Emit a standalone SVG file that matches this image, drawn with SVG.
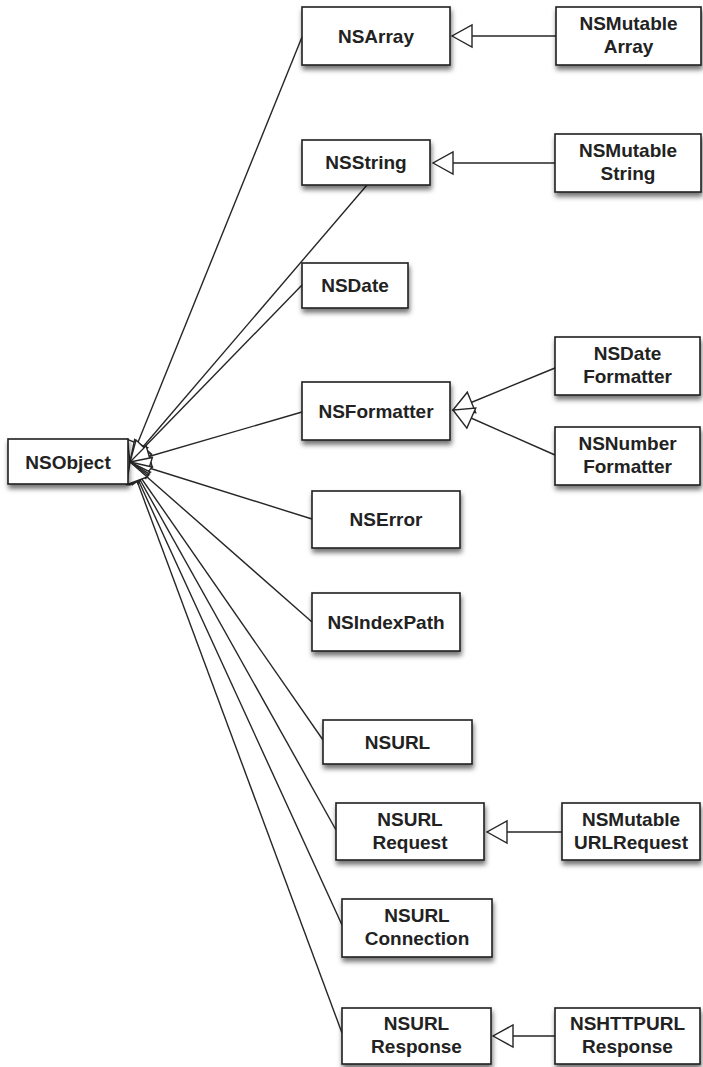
<svg xmlns="http://www.w3.org/2000/svg" width="703" height="1067" viewBox="0 0 703 1067">
  <style>
    .box { fill: #ffffff; stroke: #1e1e1e; stroke-width: 1.6; filter: url(#shadow); }
    .label { font-family: "Liberation Sans", Arial, Helvetica, sans-serif; font-weight: bold; font-size: 19px; fill: #222222; text-anchor: middle; }
    .edge { fill: none; stroke: #262626; stroke-width: 1.4; marker-end: url(#hollow); }
  </style>
  <defs>
    <filter id="shadow" x="-20%" y="-20%" width="140%" height="160%">
      <feDropShadow dx="1" dy="4" stdDeviation="2.5" flood-color="#000000" flood-opacity="0.55"/>
    </filter>
    <!-- hollow triangle: generalization arrowhead -->
    <marker id="hollow" markerUnits="userSpaceOnUse" markerWidth="24" markerHeight="26" viewBox="-22 -13 24 26" refX="0" refY="0" orient="auto">
      <path d="M0,0 L-20,-11 L-20,11 Z" fill="#ffffff" stroke="#262626" stroke-width="1.4" stroke-linejoin="miter"/>
    </marker>
  </defs>

  <!-- connectors -->
  <g id="connectors">
    <!-- subclasses of NSObject -->
    <line class="edge" x1="302" y1="37" x2="130" y2="462"/>
    <line class="edge" x1="367" y1="185" x2="130" y2="462"/>
    <line class="edge" x1="302" y1="285" x2="130" y2="462"/>
    <line class="edge" x1="302" y1="412" x2="130" y2="462"/>
    <line class="edge" x1="312" y1="519" x2="130" y2="462"/>
    <line class="edge" x1="312" y1="622" x2="130" y2="462"/>
    <line class="edge" x1="323" y1="740" x2="130" y2="462"/>
    <line class="edge" x1="336" y1="830" x2="130" y2="462"/>
    <line class="edge" x1="342" y1="925" x2="130" y2="462"/>
    <line class="edge" x1="342" y1="1033" x2="130" y2="462"/>
    <!-- second level subclasses -->
    <line class="edge" x1="556" y1="36" x2="452" y2="36"/>
    <line class="edge" x1="555" y1="163" x2="433" y2="163"/>
    <line class="edge" x1="555" y1="368" x2="453" y2="410"/>
    <line class="edge" x1="555" y1="455" x2="453" y2="410"/>
    <line class="edge" x1="562" y1="832" x2="487" y2="832"/>
    <line class="edge" x1="555" y1="1036" x2="493" y2="1036"/>
  </g>

  <g id="NSObject">
    <rect class="box" x="8" y="439" width="120" height="45"/>
    <text class="label" x="68" y="469">NSObject</text>
  </g>
  <g id="NSArray">
    <rect class="box" x="302" y="7" width="148" height="58"/>
    <text class="label" x="376" y="43">NSArray</text>
  </g>
  <g id="NSMutableArray">
    <rect class="box" x="556" y="7" width="145" height="58"/>
    <text class="label" x="628.5" y="30">NSMutable</text>
    <text class="label" x="628.5" y="53">Array</text>
  </g>
  <g id="NSString">
    <rect class="box" x="302" y="140" width="128" height="45"/>
    <text class="label" x="366" y="169">NSString</text>
  </g>
  <g id="NSMutableString">
    <rect class="box" x="555" y="134" width="146" height="58"/>
    <text class="label" x="628" y="157">NSMutable</text>
    <text class="label" x="628" y="180">String</text>
  </g>
  <g id="NSDate">
    <rect class="box" x="302" y="263" width="106" height="45"/>
    <text class="label" x="355" y="292">NSDate</text>
  </g>
  <g id="NSFormatter">
    <rect class="box" x="302" y="382" width="148" height="58"/>
    <text class="label" x="376" y="418">NSFormatter</text>
  </g>
  <g id="NSDateFormatter">
    <rect class="box" x="555" y="337" width="145" height="58"/>
    <text class="label" x="627.5" y="360">NSDate</text>
    <text class="label" x="627.5" y="383">Formatter</text>
  </g>
  <g id="NSNumberFormatter">
    <rect class="box" x="555" y="427" width="145" height="58"/>
    <text class="label" x="627.5" y="450">NSNumber</text>
    <text class="label" x="627.5" y="473">Formatter</text>
  </g>
  <g id="NSError">
    <rect class="box" x="312" y="491" width="148" height="57"/>
    <text class="label" x="386" y="526">NSError</text>
  </g>
  <g id="NSIndexPath">
    <rect class="box" x="312" y="593" width="148" height="58"/>
    <text class="label" x="386" y="629">NSIndexPath</text>
  </g>
  <g id="NSURL">
    <rect class="box" x="323" y="720" width="149" height="44"/>
    <text class="label" x="397.5" y="749">NSURL</text>
  </g>
  <g id="NSURLRequest">
    <rect class="box" x="336" y="803" width="148" height="57"/>
    <text class="label" x="410" y="826">NSURL</text>
    <text class="label" x="410" y="849">Request</text>
  </g>
  <g id="NSMutableURLRequest">
    <rect class="box" x="562" y="803" width="138" height="57"/>
    <text class="label" x="631" y="826">NSMutable</text>
    <text class="label" x="631" y="849">URLRequest</text>
  </g>
  <g id="NSURLConnection">
    <rect class="box" x="342" y="899" width="150" height="58"/>
    <text class="label" x="417" y="922">NSURL</text>
    <text class="label" x="417" y="945">Connection</text>
  </g>
  <g id="NSURLResponse">
    <rect class="box" x="342" y="1008" width="149" height="56"/>
    <text class="label" x="416.5" y="1030">NSURL</text>
    <text class="label" x="416.5" y="1053">Response</text>
  </g>
  <g id="NSHTTPURLResponse">
    <rect class="box" x="555" y="1008" width="145" height="56"/>
    <text class="label" x="627.5" y="1030">NSHTTPURL</text>
    <text class="label" x="627.5" y="1053">Response</text>
  </g>
</svg>
